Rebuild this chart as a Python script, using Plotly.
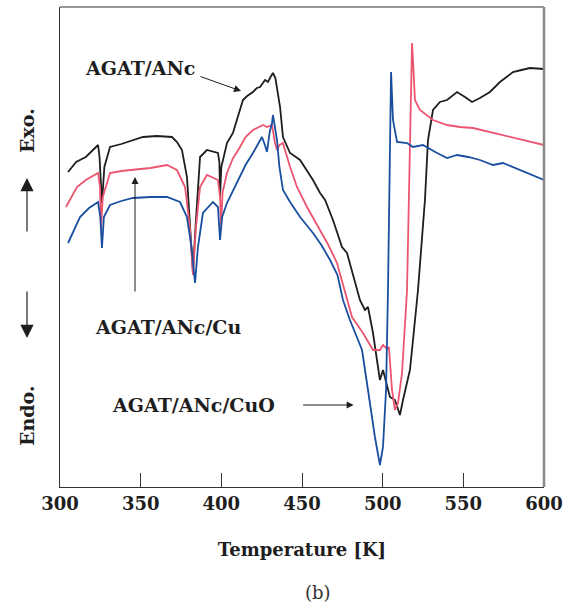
import plotly.graph_objects as go

# AGAT/ANc (black)
t_anc = [305.0, 310.0, 316.0, 323.6, 324.5, 326.0, 327.5, 331.0, 338.0, 345.2, 351.4, 360.0, 369.4, 372.5,
         375.6, 378.7, 381.0, 382.4, 384.0, 386.8, 391.1, 397.9, 398.8, 399.2, 400.0, 403.5, 407.2, 410.0,
         413.4, 416.0, 419.6, 422.0, 424.0, 427.1, 428.9, 430.5, 432.0, 433.5, 434.5, 436.4, 438.2, 442.6,
         448.8, 453.0, 456.8, 461.2, 464.3, 469.2, 474.8, 477.9, 482.0, 485.9, 489.0, 490.9, 494.0, 498.3,
         500.2, 503.3, 504.5, 507.6, 510.7, 512.6, 516.9, 518.8, 521.9, 526.2, 528.1, 531.2, 535.5, 539.9,
         546.1, 551.0, 555.4, 560.3, 566.5, 572.7, 580.8, 586.0, 591.3, 600.0]
v_anc = [315, 325, 330, 342, 330, 284, 320, 340, 343, 347, 350, 351, 350, 345,
         337, 310, 250, 215, 260, 330, 337, 334, 325, 290, 320, 344, 354, 368,
         387, 391, 395, 399, 400, 407, 405, 410, 414, 409, 400, 380, 350, 334,
         327, 316, 307, 294, 287, 267, 240, 234, 210, 187, 177, 180, 154, 107,
         117, 97, 90, 87, 72, 87, 117, 147, 197, 287, 347, 377, 385, 387,
         395, 390, 385, 389, 395, 405, 415, 417, 419, 418]

# AGAT/ANc/Cu (red)
t_cu = [303.7, 310.5, 316.0, 323.6, 324.8, 325.4, 326.5, 331.0, 338.0, 345.2, 356.0, 366.3, 372.5, 377.5,
        380.5, 382.4, 384.3, 386.8, 391.1, 397.9, 399.2, 399.8, 400.8, 403.5, 407.0, 411.6, 415.0, 419.6,
        425.8, 428.3, 431.4, 433.3, 434.5, 436.0, 438.2, 442.6, 446.9, 453.1, 461.2, 466.0, 471.7, 477.9,
        481.0, 487.8, 494.0, 498.3, 500.2, 502.7, 503.9, 505.8, 507.6, 509.5, 512.0, 515.1, 518.2, 519.0,
        520.0, 523.1, 531.2, 539.9, 547.9, 556.0, 568.4, 580.8, 593.2, 600.0]
v_cu = [280, 300, 307, 314, 300, 257, 290, 314, 316, 317, 319, 322, 317, 300,
        260, 212, 260, 300, 312, 307, 290, 260, 295, 314, 328, 340, 350, 357,
        362, 360, 362, 344, 337, 342, 344, 320, 300, 280, 257, 243, 224, 187,
        170, 154, 137, 137, 142, 138, 140, 97, 77, 84, 114, 197, 444, 420,
        387, 377, 367, 362, 360, 359, 354, 349, 344, 342]

# AGAT/ANc/CuO (blue)
t_cuo = [305.0, 312.4, 318.0, 323.6, 325.0, 326.0, 327.2, 331.0, 338.0, 345.2, 356.0, 366.3, 374.4, 378.7,
         381.5, 383.7, 385.5, 388.6, 394.8, 397.9, 399.2, 400.5, 403.5, 407.0, 411.6, 415.0, 419.6, 425.2,
         427.0, 428.3, 430.0, 431.4, 432.0, 434.5, 436.0, 438.2, 442.6, 448.8, 456.8, 462.0, 467.4, 472.0,
         475.4, 479.7, 484.0, 487.2, 490.9, 495.2, 498.3, 500.2, 502.1, 503.3, 505.2, 505.8, 506.4, 508.9,
         515.1, 518.8, 525.0, 533.7, 539.9, 546.1, 553.0, 560.3, 568.4, 574.6, 585.1, 593.2, 600.0]
v_cuo = [244, 270, 279, 285, 270, 239, 270, 282, 286, 289, 290, 290, 285, 270,
         240, 204, 240, 274, 285, 280, 247, 270, 284, 296, 310, 322, 334, 350,
         342, 335, 355, 364, 372, 347, 320, 297, 285, 270, 254, 242, 227, 212,
         187, 167, 150, 137, 97, 50, 22, 40, 97, 197, 415, 385, 367, 345,
         344, 340, 342, 334, 329, 332, 330, 327, 322, 324, 317, 312, 307]

x_ticks = [300, 350, 400, 450, 500, 550, 600]

SERIF = "DejaVu Serif"
INK = "#1e1e1e"

fig = go.Figure()
fig.add_trace(go.Scatter(x=t_anc, y=v_anc, mode="lines", line=dict(color=INK, width=1.8), name="AGAT/ANc"))
fig.add_trace(go.Scatter(x=t_cu, y=v_cu, mode="lines", line=dict(color="#ec5570", width=1.8), name="AGAT/ANc/Cu"))
fig.add_trace(go.Scatter(x=t_cuo, y=v_cuo, mode="lines", line=dict(color="#1a4fa0", width=1.8), name="AGAT/ANc/CuO"))

fig.update_layout(
    width=571, height=607,
    margin=dict(l=60, r=27, t=7, b=120),
    paper_bgcolor="white", plot_bgcolor="white",
    showlegend=False,
    font=dict(family=SERIF, color=INK),
    xaxis=dict(range=[300, 600], tickvals=x_ticks, ticktext=["<b>%d</b>" % v for v in x_ticks],
               ticks="inside", ticklen=14, tickwidth=1.2, tickcolor="#333",
               showline=True, linecolor="#333", linewidth=1.2, mirror=False,
               showgrid=False, zeroline=False,
               tickfont=dict(family=SERIF, size=18, color=INK),
               title=dict(text="<b>Temperature [K]</b>", font=dict(family=SERIF, size=18, color=INK), standoff=30)),
    yaxis=dict(range=[0, 480], showticklabels=False, ticks="", showgrid=False, zeroline=False,
               showline=True, linecolor="#333", linewidth=1.2),
)

# top and right borders
fig.add_shape(type="line", xref="paper", yref="paper", x0=0, x1=1, y0=1, y1=1,
              line=dict(color="#333", width=1.2))
fig.add_shape(type="line", xref="paper", yref="paper", x0=1, x1=1, y0=0, y1=1,
              line=dict(color="#888", width=2.5))

arrow_style = dict(showarrow=True, arrowhead=2, arrowsize=1.4, arrowwidth=1, arrowcolor=INK, text="")

# Series labels with arrows
fig.add_annotation(x=412.2, y=396, xref="x", yref="y", ax=-42, ay=-15, **arrow_style)
fig.add_annotation(x=314.3, y=419, xref="x", yref="y", text="<b>AGAT/ANc</b>", showarrow=False,
                   xanchor="left", yanchor="middle", font=dict(family=SERIF, size=19, color=INK))

fig.add_annotation(x=346.5, y=310, xref="x", yref="y", ax=0, ay=116, **arrow_style)
fig.add_annotation(x=320.5, y=160, xref="x", yref="y", text="<b>AGAT/ANc/Cu</b>", showarrow=False,
                   xanchor="left", yanchor="middle", font=dict(family=SERIF, size=19, color=INK))

fig.add_annotation(x=482, y=82, xref="x", yref="y", ax=-52, ay=0, **arrow_style)
fig.add_annotation(x=331, y=82, xref="x", yref="y", text="<b>AGAT/ANc/CuO</b>", showarrow=False,
                   xanchor="left", yanchor="middle", font=dict(family=SERIF, size=19, color=INK))

# Exo / Endo labels and arrows (pixel positions converted below)
fig.add_annotation(x=27, y=607 - 131, xref="paper", yref="paper", text="<b>Exo.</b>", showarrow=False,
                   xanchor="center", yanchor="middle",
                   textangle=-90, font=dict(family=SERIF, size=19, color=INK))
fig.add_annotation(x=27, y=607 - 416, xref="paper", yref="paper", text="<b>Endo.</b>", showarrow=False,
                   xanchor="center", yanchor="middle",
                   textangle=-90, font=dict(family=SERIF, size=19, color=INK))

fig.add_annotation(x=27, y=607 - 178, xref="paper", yref="paper", ax=0, ay=55, text="",
                   showarrow=True, arrowhead=2, arrowsize=2.2, arrowwidth=1.2, arrowcolor=INK)
fig.add_annotation(x=27, y=607 - 338, xref="paper", yref="paper", ax=0, ay=-48, text="",
                   showarrow=True, arrowhead=2, arrowsize=2.2, arrowwidth=1.2, arrowcolor=INK)

fig.add_annotation(x=318, y=607 - 592, xref="paper", yref="paper", text="(b)", showarrow=False,
                   xanchor="center", yanchor="middle",
                   font=dict(family=SERIF, size=18, color="#333"))

# convert pixel-based paper annotations to paper fractions
plot_w = 571 - 60 - 27
plot_h = 607 - 7 - 120
for a in fig.layout.annotations:
    if a.xref == "paper":
        a.x = (a.x - 60) / plot_w
        a.y = (a.y - 120) / plot_h

fig.write_html("out.html")
